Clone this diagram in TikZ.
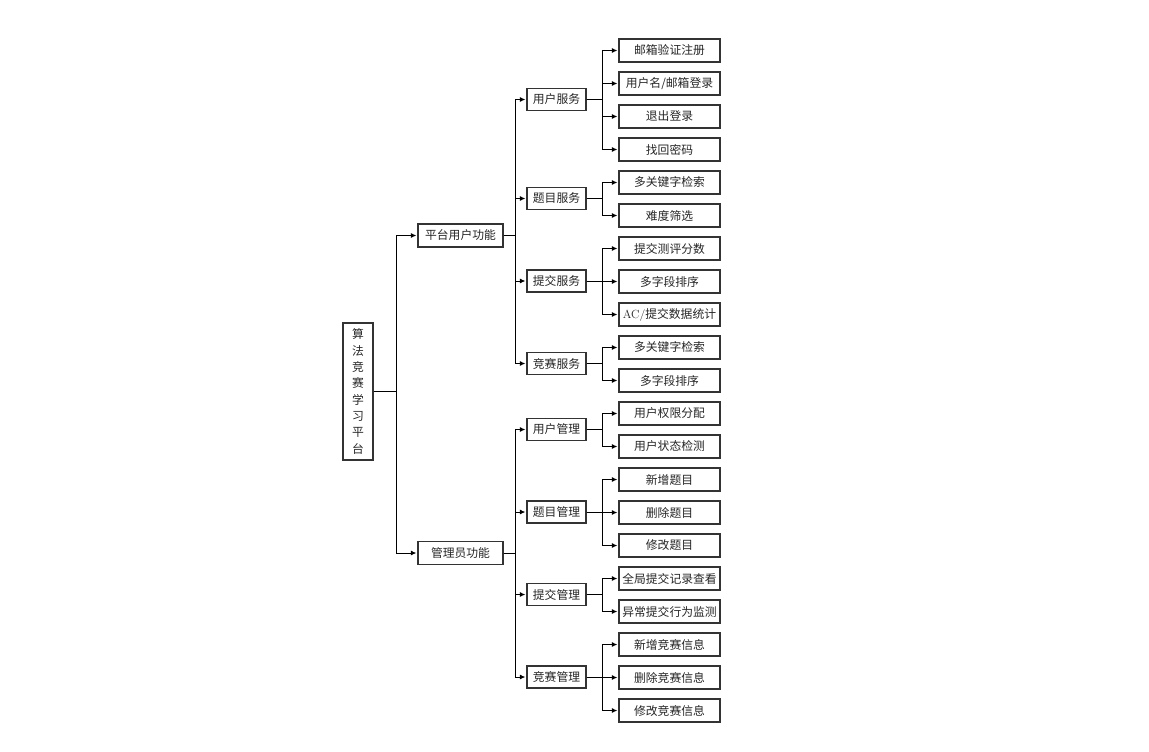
\documentclass[tikz,border=0pt]{standalone}
\usepackage{fontspec}
\newfontfamily\cjk{Noto Sans CJK SC}
\usetikzlibrary{arrows.meta,calc}
\begin{document}
\begin{tikzpicture}[x=1pt,y=-1pt,
  box/.style={draw=black!80,line width=1.3pt,inner sep=0pt,text=black!85,font=\cjk\fontsize{11.8}{13}\selectfont,fill=white},
  rootbox/.style={box,minimum width=30pt,minimum height=137pt,align=center},
  lvone/.style={box,minimum width=85pt,minimum height=23pt},
  lvtwo/.style={box,minimum width=59pt,minimum height=22pt},
  leaf/.style={box,minimum width=101pt,minimum height=23pt},
  conn/.style={draw=black,line width=0.9pt},
  arr/.style={conn,shorten >=1pt,-{Latex[length=5.5pt,width=5pt]}}]
\useasboundingbox (0,0) rectangle (1149,752);
% root
\node[rootbox] (root) at (358,391.5) {算\\[3.3pt]法\\[3.3pt]竞\\[3.3pt]赛\\[3.3pt]学\\[3.3pt]习\\[3.3pt]平\\[3.3pt]台};
% level 1
\node[lvone] (p1) at (460.5,235.5) {平台用户功能};
\node[lvone] (p2) at (460.5,553) {管理员功能};
% level 2
\node[lvtwo] (a1) at (556.5,99.5) {用户服务};
\node[lvtwo] (a2) at (556.5,198.5) {题目服务};
\node[lvtwo] (a3) at (556.5,281) {提交服务};
\node[lvtwo] (a4) at (556.5,363.5) {竞赛服务};
\node[lvtwo] (b1) at (556.5,429.5) {用户管理};
\node[lvtwo] (b2) at (556.5,512) {题目管理};
\node[lvtwo] (b3) at (556.5,594.5) {提交管理};
\node[lvtwo] (b4) at (556.5,677) {竞赛管理};
% leaves
\node[leaf] (l1) at (669.5,50.5) {邮箱验证注册};
\node[leaf] (l2) at (669.5,83.5) {用户名/邮箱登录};
\node[leaf] (l3) at (669.5,116.5) {退出登录};
\node[leaf] (l4) at (669.5,149.5) {找回密码};
\node[leaf] (l5) at (669.5,182.5) {多关键字检索};
\node[leaf] (l6) at (669.5,215.5) {难度筛选};
\node[leaf] (l7) at (669.5,248.5) {提交测评分数};
\node[leaf] (l8) at (669.5,281.5) {多字段排序};
\node[leaf] (l9) at (669.5,314.5) {{\rmfamily AC/}提交数据统计};
\node[leaf] (l10) at (669.5,347.5) {多关键字检索};
\node[leaf] (l11) at (669.5,380.5) {多字段排序};
\node[leaf] (l12) at (669.5,413.5) {用户权限分配};
\node[leaf] (l13) at (669.5,446.5) {用户状态检测};
\node[leaf] (l14) at (669.5,479.5) {新增题目};
\node[leaf] (l15) at (669.5,512.5) {删除题目};
\node[leaf] (l16) at (669.5,545.5) {修改题目};
\node[leaf] (l17) at (669.5,578.5) {全局提交记录查看};
\node[leaf] (l18) at (669.5,611.5) {异常提交行为监测};
\node[leaf] (l19) at (669.5,644.5) {新增竞赛信息};
\node[leaf] (l20) at (669.5,677.5) {删除竞赛信息};
\node[leaf] (l21) at (669.5,710.5) {修改竞赛信息};
% connectors root -> level1
\foreach \c in {p1,p2} \draw[arr] (root.east) -- ($(root.east)+(23,0)$) |- (\c.west);
% level1 -> level2
\foreach \c in {a1,a2,a3,a4} \draw[arr] (p1.east) -- ($(p1.east)+(12,0)$) |- (\c.west);
\foreach \c in {b1,b2,b3,b4} \draw[arr] (p2.east) -- ($(p2.east)+(12,0)$) |- (\c.west);
% level2 -> leaves
\foreach \p/\c in {a1/l1,a1/l2,a1/l3,a1/l4,a2/l5,a2/l6,a3/l7,a3/l8,a3/l9,a4/l10,a4/l11,b1/l12,b1/l13,b2/l14,b2/l15,b2/l16,b3/l17,b3/l18,b4/l19,b4/l20,b4/l21}
  \draw[arr] (\p.east) -- ($(\p.east)+(16,0)$) |- (\c.west);
\end{tikzpicture}
\end{document}
